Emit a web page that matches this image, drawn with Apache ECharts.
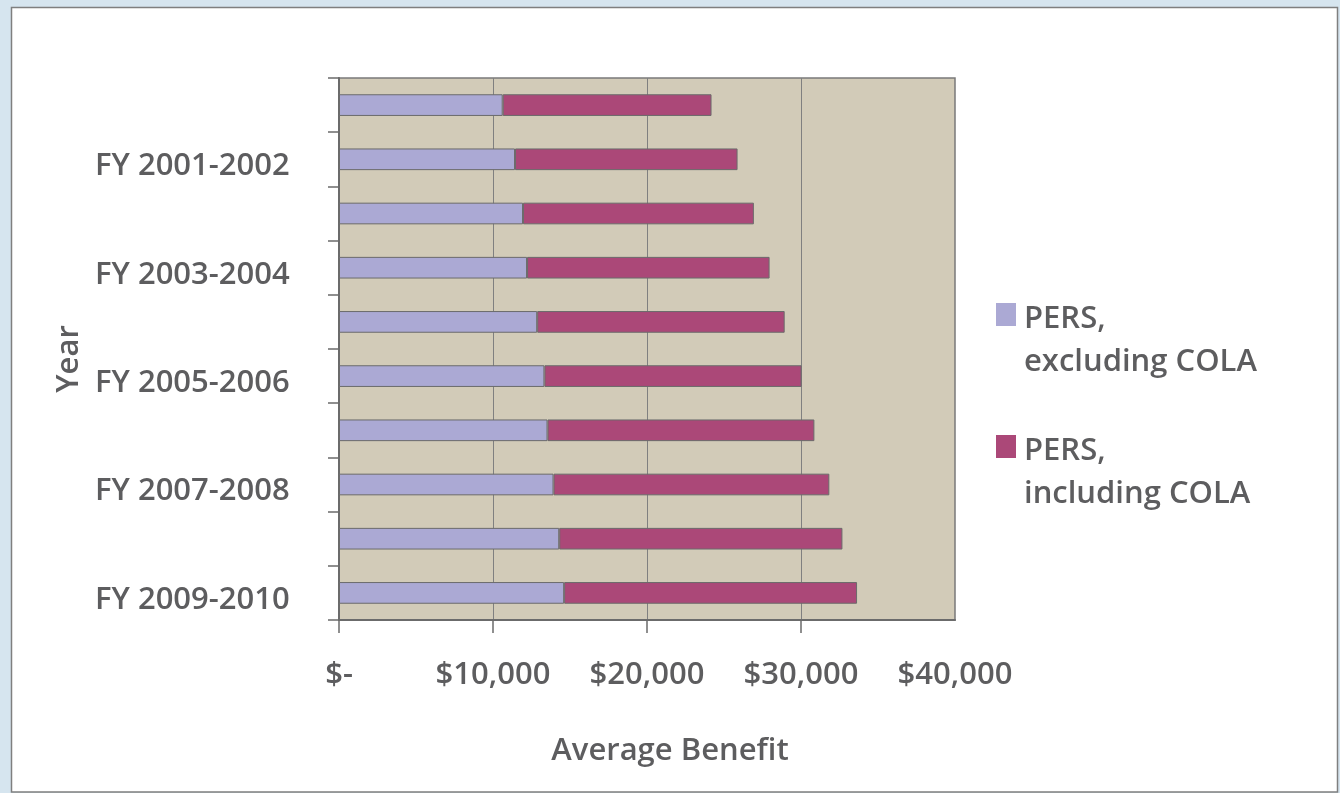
<!DOCTYPE html>
<html>
<head>
<meta charset="utf-8">
<title>PERS Average Benefit</title>
<script src="https://cdn.jsdelivr.net/npm/echarts@6/dist/echarts.min.js"></script>
<style>
  html, body { margin: 0; padding: 0; background: #d6e5ef; }
  #chart { width: 1340px; height: 793px; }
</style>
</head>
<body>
<div id="chart"></div>
<script>
// Fiscal years, top to bottom
const years = [
  'FY 2000-2001', 'FY 2001-2002', 'FY 2002-2003', 'FY 2003-2004', 'FY 2004-2005',
  'FY 2005-2006', 'FY 2006-2007', 'FY 2007-2008', 'FY 2008-2009', 'FY 2009-2010'
];
// Average benefit before cost-of-living adjustments
const excludingCola = [10630, 11430, 11950, 12210, 12870, 13340, 13540, 13930, 14300, 14620];
// Average benefit with cost-of-living adjustments (bar end)
const includingCola = [24190, 25880, 26940, 27960, 28940, 30040, 30870, 31840, 32690, 33640];
// Value-axis labels and tick marks
const xTicks = [0, 10000, 20000, 30000, 40000];
const xTickMarks = [0, 10000, 20000, 30000];

const seriesNames = ['PERS,\nexcluding COLA', 'PERS,\nincluding COLA'];
const colaPart = includingCola.map((v, i) => v - excludingCola[i]);

const FONT = '"Open Sans", "Noto Sans", sans-serif';
const TEXT = '#5d5d5f';
const SIZE = 31;
const WEIGHT = 600;

function money(v) {
  if (v === 0) return '$-';
  return '$' + v.toLocaleString('en-US');
}

// legend marker: square near the top of a tall, otherwise empty box
const legendIcon = 'path://M0,0h0.001v0.001h-0.001z M0,5h20v23h-20z M0,86h0.001v0.001h-0.001z';

const chart = echarts.init(document.getElementById('chart'), null, { renderer: 'canvas' });
chart.setOption({
  backgroundColor: '#d6e5ef',
  animation: false,
  graphic: [{
    type: 'rect',
    z: -10,
    shape: { x: 11.5, y: 7.5, width: 1326, height: 784.5 },
    style: { fill: '#ffffff', stroke: '#7f7f7f', lineWidth: 1.5 }
  }],
  grid: {
    left: 339, right: 385, top: 78, bottom: 173,
    show: true, backgroundColor: '#d2cbb8', borderColor: '#7a7a7a', borderWidth: 1.5
  },
  legend: {
    orient: 'vertical',
    left: 991, top: 293,
    itemWidth: 20, itemHeight: 86, itemGap: 46,
    icon: legendIcon,
    itemStyle: { borderWidth: 0 },
    textStyle: {
      fontFamily: FONT, fontSize: SIZE, fontWeight: WEIGHT, color: TEXT,
      lineHeight: 43, padding: [0, 0, 0, 3]
    },
    data: seriesNames
  },
  xAxis: {
    type: 'value',
    min: 0, max: 40000, interval: 10000,
    name: 'Average Benefit',
    nameLocation: 'middle',
    nameGap: 116,
    nameTextStyle: {
      fontFamily: FONT, fontSize: SIZE, fontWeight: WEIGHT, color: TEXT,
      padding: [0, 0, 0, 46]
    },
    axisLine: { show: true, lineStyle: { color: '#6b6b6b', width: 2 } },
    axisTick: { show: true, length: 13, customValues: xTickMarks, lineStyle: { color: '#6b6b6b', width: 1.5 } },
    splitLine: { show: true, lineStyle: { color: '#808080', width: 1 } },
    axisLabel: {
      fontFamily: FONT, fontSize: SIZE, fontWeight: WEIGHT, color: TEXT, margin: 40,
      formatter: v => xTicks.includes(v) ? money(v) : ''
    }
  },
  yAxis: {
    type: 'category',
    data: years,
    inverse: true,
    name: 'Year',
    nameLocation: 'middle',
    nameGap: 254,
    nameRotate: 90,
    nameTextStyle: {
      fontFamily: FONT, fontSize: SIZE, fontWeight: WEIGHT, color: TEXT,
      padding: [0, 20, 0, 0]
    },
    axisLine: { show: true, lineStyle: { color: '#6b6b6b', width: 2 } },
    axisTick: { show: true, interval: 0, length: 11, lineStyle: { color: '#6b6b6b', width: 1.5 } },
    axisLabel: {
      fontFamily: FONT, fontSize: SIZE, fontWeight: WEIGHT, color: TEXT,
      align: 'left', margin: 244,
      verticalAlign: 'top', lineHeight: 14,
      interval: (idx) => idx % 2 === 1
    }
  },
  series: [
    {
      name: seriesNames[0],
      type: 'bar',
      stack: 'benefit',
      barWidth: '40%',
      data: excludingCola,
      itemStyle: { color: '#aba9d4', borderColor: '#6b6b6b', borderWidth: 1 }
    },
    {
      name: seriesNames[1],
      type: 'bar',
      stack: 'benefit',
      barWidth: '40%',
      data: colaPart,
      itemStyle: { color: '#ab4878', borderColor: '#6b6b6b', borderWidth: 1 }
    }
  ]
});
</script>
</body>
</html>
